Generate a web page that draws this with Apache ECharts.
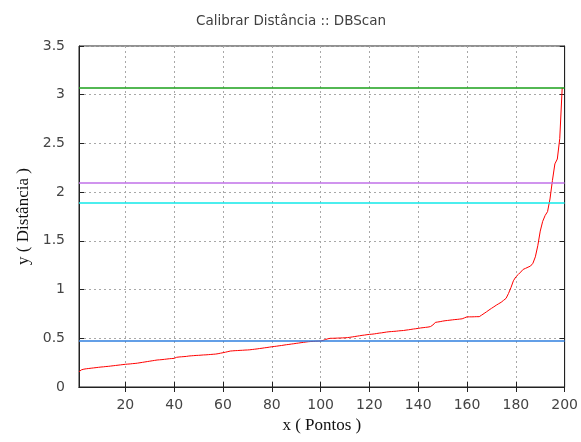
<!DOCTYPE html>
<html>
<head>
<meta charset="utf-8">
<script src="https://cdn.jsdelivr.net/npm/echarts@6/dist/echarts.min.js"></script>
<style>html,body{margin:0;padding:0;background:#fff;}#c{width:581px;height:442px;}</style>
</head>
<body>
<div id="c"></div>
<script>
// Point index (x) and sorted k-distance values (y)
var distances = [
  0.157, 0.176, 0.183, 0.187, 0.190, 0.193, 0.196, 0.199, 0.202, 0.205,
  0.207, 0.210, 0.212, 0.215, 0.218, 0.221, 0.224, 0.227, 0.230, 0.233,
  0.235, 0.237, 0.240, 0.242, 0.245, 0.249, 0.253, 0.257, 0.261, 0.265,
  0.269, 0.273, 0.277, 0.279, 0.281, 0.284, 0.287, 0.290, 0.292, 0.294,
  0.305, 0.308, 0.310, 0.312, 0.314, 0.318, 0.320, 0.322, 0.324, 0.325,
  0.327, 0.329, 0.330, 0.332, 0.334, 0.336, 0.338, 0.342, 0.347, 0.352,
  0.357, 0.363, 0.369, 0.371, 0.373, 0.374, 0.376, 0.377, 0.379, 0.380,
  0.382, 0.385, 0.388, 0.391, 0.395, 0.398, 0.402, 0.405, 0.409, 0.413,
  0.416, 0.419, 0.423, 0.426, 0.430, 0.434, 0.437, 0.441, 0.444, 0.448,
  0.451, 0.455, 0.458, 0.462, 0.465, 0.467, 0.468, 0.470, 0.471, 0.472,
  0.478, 0.487, 0.495, 0.500, 0.500, 0.501, 0.502, 0.503, 0.504, 0.505,
  0.507, 0.510, 0.514, 0.518, 0.522, 0.526, 0.530, 0.533, 0.537, 0.540,
  0.542, 0.545, 0.549, 0.553, 0.556, 0.560, 0.564, 0.567, 0.569, 0.571,
  0.573, 0.576, 0.578, 0.580, 0.584, 0.587, 0.591, 0.595, 0.598, 0.602,
  0.606, 0.609, 0.612, 0.615, 0.620, 0.636, 0.663, 0.667, 0.671, 0.676,
  0.680, 0.683, 0.686, 0.689, 0.692, 0.694, 0.697, 0.700, 0.710, 0.720,
  0.720, 0.720, 0.721, 0.722, 0.722, 0.738, 0.755, 0.772, 0.790, 0.807,
  0.823, 0.840, 0.855, 0.870, 0.890, 0.910, 0.960, 1.020, 1.090, 1.130,
  1.155, 1.180, 1.207, 1.218, 1.230, 1.241, 1.270, 1.336, 1.450, 1.600,
  1.700, 1.760, 1.800, 1.930, 2.120, 2.290, 2.340, 2.550, 3.070
];
var firstPoint = 1;
// Horizontal reference lines (candidate eps values)
var thresholds = [3.07, 2.1, 1.89, 0.47];
var thresholdColors = ['#1aa01a', '#c070e8', '#10e8e8', '#2f7fdf'];
var xTicks = [20, 40, 60, 80, 100, 120, 140, 160, 180, 200];
var xRange = [1, 200];
var yRange = [0, 3.5];
var yStep = 0.5;

var points = distances.map(function (v, i) { return [firstPoint + i, v]; });

var chart = echarts.init(document.getElementById('c'), null, {renderer: 'canvas'});
var tickFont = {fontFamily: 'DejaVu Sans', fontSize: 14, color: '#444'};
var split = {show: true, lineStyle: {color: '#a8a8a8', type: [2, 3], width: 1}};

var thresholdSeries = thresholds.map(function (t, i) {
  return {
    type: 'line', data: [], silent: true,
    markLine: {
      silent: true, symbol: 'none', label: {show: false}, animation: false,
      lineStyle: {color: thresholdColors[i], type: 'solid', width: 1.5},
      data: [{yAxis: t}]
    }
  };
});

chart.setOption({
  animation: false,
  backgroundColor: '#fff',
  title: {
    text: 'Calibrar Distância :: DBScan',
    left: 191,
    top: 9,
    textStyle: {fontFamily: 'DejaVu Sans', fontSize: 13.5, fontWeight: 'normal', color: '#404040'}
  },
  grid: {left: 79, right: 16, top: 46, bottom: 55, show: true, borderColor: '#222', borderWidth: 1, backgroundColor: 'transparent'},
  xAxis: [{
    type: 'value', min: xRange[0], max: xRange[1], position: 'bottom',
    name: 'x ( Pontos )', nameLocation: 'middle', nameGap: 30,
    nameTextStyle: {fontFamily: 'Liberation Serif', fontSize: 17, color: '#111'},
    axisLine: {show: true, lineStyle: {color: '#222'}},
    axisTick: {show: true, inside: true, length: 5, customValues: xTicks, lineStyle: {color: '#222'}},
    axisLabel: Object.assign({customValues: xTicks, margin: 11}, tickFont),
    splitLine: split
  }, {
    type: 'value', min: xRange[0], max: xRange[1], position: 'top',
    axisLine: {show: true, lineStyle: {color: '#222'}},
    axisTick: {show: true, inside: true, length: 5, customValues: xTicks, lineStyle: {color: '#222'}},
    axisLabel: {show: false},
    splitLine: {show: false}
  }],
  yAxis: [{
    type: 'value', min: yRange[0], max: yRange[1], interval: yStep, position: 'left',
    name: 'y ( Distância )', nameLocation: 'middle', nameGap: 46,
    nameTextStyle: {fontFamily: 'Liberation Serif', fontSize: 17, color: '#111'},
    axisLine: {show: true, lineStyle: {color: '#222'}},
    axisTick: {show: true, inside: true, length: 5, lineStyle: {color: '#222'}},
    axisLabel: Object.assign({margin: 14}, tickFont),
    splitLine: split
  }, {
    type: 'value', min: yRange[0], max: yRange[1], interval: yStep, position: 'right',
    axisLine: {show: true, lineStyle: {color: '#222'}},
    axisTick: {show: true, inside: true, length: 5, lineStyle: {color: '#222'}},
    axisLabel: {show: false},
    splitLine: {show: false}
  }],
  series: [{
    type: 'line',
    data: points,
    showSymbol: false,
    symbol: 'none',
    lineStyle: {color: '#ff0000', width: 1},
    z: 3
  }].concat(thresholdSeries)
});
</script>
</body>
</html>
